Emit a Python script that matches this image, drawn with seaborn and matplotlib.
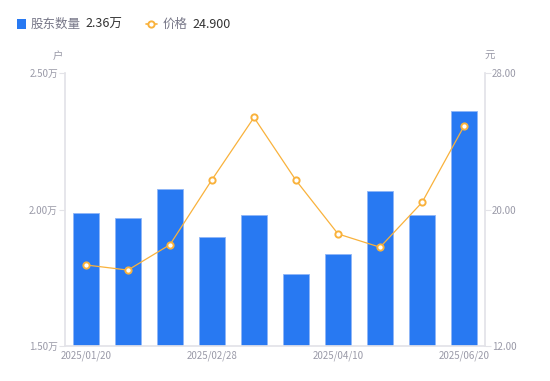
import numpy as np
import pandas as pd
import seaborn as sns
import matplotlib.pyplot as plt
from matplotlib.lines import Line2D
from matplotlib.patches import Rectangle

# data
dates = ["2025/01/20", "2025/01/31", "2025/02/10", "2025/02/28", "2025/03/10",
         "2025/03/31", "2025/04/10", "2025/04/30", "2025/05/20", "2025/06/20"]
holders = [1.986, 1.968, 2.076, 1.899, 1.981, 1.765, 1.836, 2.069, 1.979, 2.361]  # 万户
price = [16.75, 16.45, 17.94, 21.75, 25.40, 21.71, 18.57, 17.79, 20.42, 24.90]     # 元
shown_ticks = ["2025/01/20", "2025/02/28", "2025/04/10", "2025/06/20"]

sns.set_theme(style="white")
plt.rcParams['font.family'] = ['Noto Sans CJK SC', 'DejaVu Sans']

BLUE = "#2879f2"
ORANGE = "#f9b23c"
GREY = "#9a9aa8"
AXIS = "#e3e3e8"

df = pd.DataFrame({"date": dates, "holders": holders, "price": price})

fig = plt.figure(figsize=(5.5, 3.81), dpi=100)
ax = fig.add_axes([0.118, 0.092, 0.764, 0.716])

sns.barplot(data=df, x="date", y="holders", ax=ax, color=BLUE, width=0.6,
            saturation=1, edgecolor="#8fb6f7", linewidth=0.6)
ax.set_ylim(1.5, 2.5)
ax.set_yticks([1.5, 2.0, 2.5])
ax.set_yticklabels(["%.2f万" % v for v in [1.5, 2.0, 2.5]])
ax.set_xlim(-0.5, len(dates) - 0.5)
ax.set_xticks([dates.index(d) for d in shown_ticks])
ax.set_xticklabels(shown_ticks)
ax.set_xlabel("")
ax.set_ylabel("")

ax2 = ax.twinx()
sns.lineplot(data=df, x="date", y="price", ax=ax2, color=ORANGE, linewidth=0.9,
             marker="o", markersize=4.5, markerfacecolor="white",
             markeredgecolor=ORANGE, markeredgewidth=1.4, sort=False)
ax2.set_ylim(12, 28)
ax2.set_yticks([12, 20, 28])
ax2.set_yticklabels(["%.2f" % v for v in [12, 20, 28]])
ax2.set_ylabel("")
ax2.set_xlim(-0.5, len(dates) - 0.5)

for a in (ax, ax2):
    for s in a.spines.values():
        s.set_visible(False)
    a.tick_params(colors=GREY, labelsize=7, length=4, width=0.8, pad=1)
    a.tick_params(axis="y", color=AXIS)
    a.grid(False)
ax.tick_params(axis="x", length=0, pad=3)
ax.spines["left"].set_visible(True)
ax.spines["left"].set_color(AXIS)
ax.spines["bottom"].set_visible(True)
ax.spines["bottom"].set_color(AXIS)
ax2.spines["right"].set_visible(True)
ax2.spines["right"].set_color(AXIS)

# unit labels
fig.text(0.106, 0.845, "户", color=GREY, fontsize=7.5, ha="center")
fig.text(0.890, 0.845, "元", color=GREY, fontsize=7.5, ha="center")

# legend
fig.patches.append(Rectangle((0.03, 0.925), 0.017, 0.025, transform=fig.transFigure,
                             facecolor=BLUE, edgecolor="none"))
fig.text(0.056, 0.937, "股东数量", color="#777788", fontsize=9, va="center")
fig.text(0.155, 0.937, "%.2f万" % holders[-1], color="#333333", fontsize=9, va="center")
fig.lines.append(Line2D([0.265, 0.285], [0.937, 0.937], transform=fig.transFigure,
                        color=ORANGE, linewidth=1.2))
fig.lines.append(Line2D([0.275], [0.937], transform=fig.transFigure, color=ORANGE,
                        marker="o", markersize=4.5, markerfacecolor="white",
                        markeredgecolor=ORANGE, markeredgewidth=1.4, linestyle="none"))
fig.text(0.296, 0.937, "价格", color="#777788", fontsize=9, va="center")
fig.text(0.350, 0.937, "%.3f" % price[-1], color="#333333", fontsize=9, va="center")

fig.savefig("out.png", dpi=100)
